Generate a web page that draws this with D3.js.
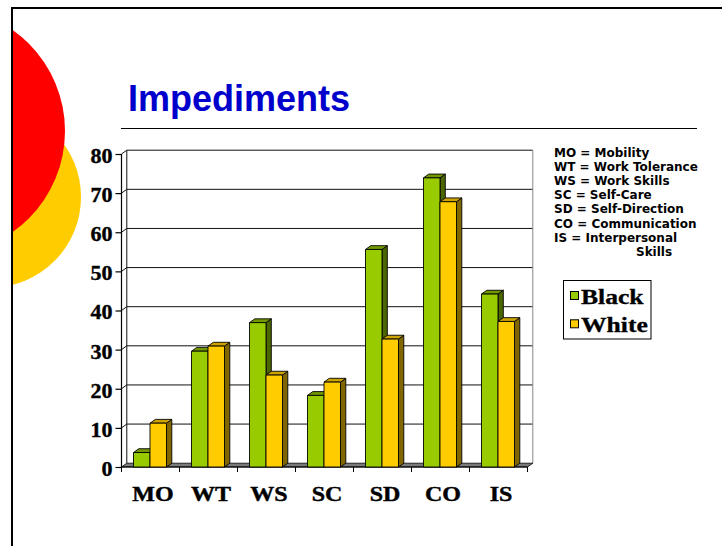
<!DOCTYPE html>
<html>
<head>
<meta charset="utf-8">
<script src="https://cdn.jsdelivr.net/npm/d3@7"></script>
<style>
  html, body { margin: 0; padding: 0; background: #fff; }
  svg { display: block; }
</style>
</head>
<body>
<svg id="chart" width="722" height="546"></svg>
<script>
// ---- data ----
const categories = ["MO", "WT", "WS", "SC", "SD", "CO", "IS"];
const seriesNames = ["Black", "White"];
const blackValues = [3.7, 29.6, 36.9, 18.3, 55.6, 73.9, 44.2];
const whiteValues = [11.2, 30.9, 23.5, 21.7, 32.7, 67.8, 37.2];
const yTicks = [0, 10, 20, 30, 40, 50, 60, 70, 80];
const keyLines = [
  "MO = Mobility",
  "WT = Work Tolerance",
  "WS = Work Skills",
  "SC = Self-Care",
  "SD = Self-Direction",
  "CO = Communication",
  "IS = Interpersonal"
];
const keyContinuation = "Skills";
const titleText = "Impediments";

// ---- styling ----
const faceColors = { Black: "#99CC00", White: "#FFCC00" };
const topColors = { Black: "#739900", White: "#CCA300" };
const sideColors = { Black: "#4C6600", White: "#806600" };
const serif = "'Liberation Serif', 'Times New Roman', serif";

const svg = d3.select("#chart");

// ---- slide decoration: overlapping discs clipped by the frame ----
svg.append("clipPath").attr("id", "slideClip")
  .append("rect").attr("x", 13).attr("y", 9).attr("width", 709).attr("height", 537);
const deco = svg.append("g").attr("clip-path", "url(#slideClip)");
deco.append("circle").attr("cx", -9.6).attr("cy", 197).attr("r", 90.6).attr("fill", "#FFCC00");
deco.append("circle").attr("cx", -58.7).attr("cy", 131).attr("r", 123.7).attr("fill", "#FF0000");

// frame lines (top and left)
svg.append("line").attr("x1", 11).attr("x2", 722).attr("y1", 8).attr("y2", 8)
  .attr("stroke", "#000").attr("stroke-width", 2);
svg.append("line").attr("x1", 12).attr("x2", 12).attr("y1", 7).attr("y2", 546)
  .attr("stroke", "#000").attr("stroke-width", 2);

// ---- title ----
svg.append("text").attr("x", 128).attr("y", 111)
  .attr("font-family", "'Liberation Sans', Arial, sans-serif")
  .attr("font-weight", "bold").attr("font-size", 36)
  .attr("fill", "#0000CC").text(titleText);
svg.append("line").attr("x1", 121).attr("x2", 697).attr("y1", 128.5).attr("y2", 128.5)
  .attr("stroke", "#000").attr("stroke-width", 1.2);

// ---- scales ----
const plotLeft = 121.5, plotRight = 527.5, plotBottom = 467, plotTop = 154;
const depthX = 5.3, depthY = -3.8;

const x = d3.scaleBand().domain(categories).range([plotLeft, plotRight]).padding(0);
const bw = x.bandwidth();
const xInner = d3.scaleBand().domain(seriesNames)
  .range([bw * 12 / 58, bw * 45 / 58]).padding(0);
const y = d3.scaleLinear().domain([0, 80]).range([plotBottom, plotTop]);

const plot = svg.append("g");

// back wall
plot.append("rect")
  .attr("x", plotLeft + depthX).attr("y", y(80) + depthY)
  .attr("width", plotRight - plotLeft).attr("height", y(0) - y(80))
  .attr("fill", "#fff").attr("stroke", "none");

// gridlines on back wall and left side wall
yTicks.forEach(t => {
  if (t === 0) return;
  plot.append("line")
    .attr("x1", plotLeft + depthX).attr("x2", plotRight + depthX)
    .attr("y1", y(t) + depthY).attr("y2", y(t) + depthY)
    .attr("stroke", "#111").attr("stroke-width", 1);
  plot.append("line")
    .attr("x1", plotLeft).attr("x2", plotLeft + depthX)
    .attr("y1", y(t)).attr("y2", y(t) + depthY)
    .attr("stroke", "#111").attr("stroke-width", 1);
});

// back wall left and right edges
plot.append("line")
  .attr("x1", plotLeft + depthX).attr("x2", plotLeft + depthX)
  .attr("y1", y(80) + depthY).attr("y2", y(0) + depthY)
  .attr("stroke", "#111").attr("stroke-width", 1);
plot.append("line")
  .attr("x1", plotRight + depthX).attr("x2", plotRight + depthX)
  .attr("y1", y(80) + depthY).attr("y2", y(0) + depthY)
  .attr("stroke", "#888").attr("stroke-width", 1);

// floor
plot.append("polygon")
  .attr("points", [
    [plotLeft, y(0)], [plotRight, y(0)],
    [plotRight + depthX, y(0) + depthY], [plotLeft + depthX, y(0) + depthY]
  ].map(p => p.join(",")).join(" "))
  .attr("fill", "#7A7A7A").attr("stroke", "#000").attr("stroke-width", 0.8);

// front value axis
plot.append("line")
  .attr("x1", plotLeft).attr("x2", plotLeft)
  .attr("y1", y(80)).attr("y2", y(0))
  .attr("stroke", "#000").attr("stroke-width", 1.2);

// y axis ticks and labels
const yAxis = d3.axisLeft(y).tickValues(yTicks).tickSize(6).tickPadding(3)
  .tickFormat(d3.format("d"));
const yAxisG = svg.append("g").attr("transform", `translate(${plotLeft},0)`).call(yAxis);
yAxisG.select(".domain").remove();
yAxisG.selectAll(".tick line").attr("stroke", "#000").attr("stroke-width", 1.2);
yAxisG.selectAll(".tick text")
  .attr("font-family", serif).attr("font-weight", "bold").attr("font-size", 22)
  .attr("fill", "#000").attr("stroke", "#000").attr("stroke-width", 0.4)
  .attr("dy", "0.38em");

// x axis: category ticks at band boundaries and labels
const boundaries = categories.map(c => x(c)).concat([plotRight]);
svg.append("g").selectAll("line").data(boundaries).join("line")
  .attr("x1", d => d).attr("x2", d => d)
  .attr("y1", plotBottom).attr("y2", plotBottom + 5)
  .attr("stroke", "#000").attr("stroke-width", 1);
svg.append("line").attr("x1", plotLeft).attr("x2", plotRight)
  .attr("y1", plotBottom).attr("y2", plotBottom)
  .attr("stroke", "#000").attr("stroke-width", 1);

svg.append("g").selectAll("text").data(categories).join("text")
  .attr("transform", d => `translate(${x(d) + bw / 2 + 2.5},501) scale(1.2,1)`)
  .attr("text-anchor", "middle")
  .attr("font-family", serif).attr("font-weight", "bold").attr("font-size", 20)
  .attr("fill", "#000").attr("stroke", "#000").attr("stroke-width", 0.4)
  .text(d => d);

// ---- 3D columns ----
const rows = categories.map((c, i) => ({
  cat: c,
  vals: [{ s: "Black", v: blackValues[i] }, { s: "White", v: whiteValues[i] }]
}));

const barsG = svg.append("g");
rows.forEach(row => {
  row.vals.forEach(d => {
    const x0 = x(row.cat) + xInner(d.s);
    const w = xInner.bandwidth();
    const yt = y(d.v), yb = y(0);
    const g = barsG.append("g").attr("stroke", "#000").attr("stroke-width", 0.9)
      .attr("stroke-linejoin", "round");
    // side face
    g.append("polygon").attr("points", [
      [x0 + w, yt], [x0 + w + depthX, yt + depthY],
      [x0 + w + depthX, yb + depthY], [x0 + w, yb]
    ].map(p => p.join(",")).join(" ")).attr("fill", sideColors[d.s]);
    // top face
    g.append("polygon").attr("points", [
      [x0, yt], [x0 + depthX, yt + depthY],
      [x0 + w + depthX, yt + depthY], [x0 + w, yt]
    ].map(p => p.join(",")).join(" ")).attr("fill", topColors[d.s]);
    // front face
    g.append("rect").attr("x", x0).attr("y", yt)
      .attr("width", w).attr("height", yb - yt)
      .attr("fill", faceColors[d.s]);
  });
});

// ---- abbreviation key ----
const keyG = svg.append("g")
  .attr("font-family", "'DejaVu Sans', Verdana, sans-serif")
  .attr("font-weight", "bold").attr("font-size", 12).attr("fill", "#000");
keyG.selectAll("text.key").data(keyLines).join("text").attr("class", "key")
  .attr("x", 554).attr("y", (d, i) => 157 + i * 14.1).text(d => d);
keyG.append("text").attr("x", 636).attr("y", 157 + 7 * 14.1).text(keyContinuation);

// ---- series legend ----
const legendG = svg.append("g");
legendG.append("rect").attr("x", 563.5).attr("y", 280.5).attr("width", 87.5).attr("height", 58.5)
  .attr("fill", "#fff").attr("stroke", "#000").attr("stroke-width", 1);
seriesNames.forEach((s, i) => {
  const yy = 291.5 + i * 28.3;
  legendG.append("rect").attr("x", 570.5).attr("y", yy).attr("width", 8).attr("height", 8)
    .attr("fill", faceColors[s]).attr("stroke", "#000").attr("stroke-width", 1);
  legendG.append("text")
    .attr("transform", `translate(581,${304 + i * 28.3}) scale(1.22,1)`)
    .attr("font-family", serif).attr("font-weight", "bold").attr("font-size", 21)
    .attr("fill", "#000").attr("stroke", "#000").attr("stroke-width", 0.3)
    .text(s);
});
</script>
</body>
</html>
